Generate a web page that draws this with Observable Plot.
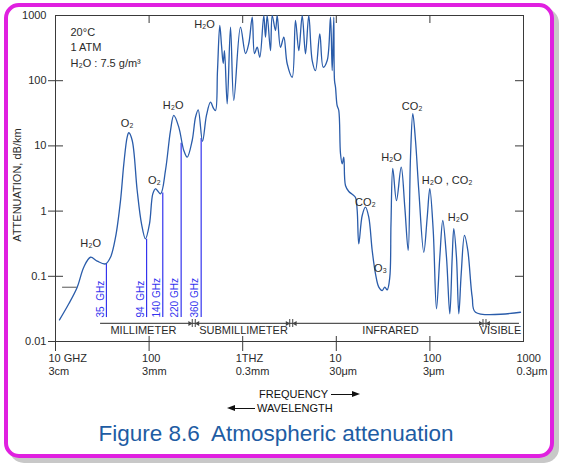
<!DOCTYPE html>
<html><head><meta charset="utf-8">
<script src="https://cdn.jsdelivr.net/npm/d3@7"></script>
<script src="https://cdn.jsdelivr.net/npm/@observablehq/plot@0.6"></script>
<style>
body{margin:0;background:#fff;font-family:"Liberation Sans",Arial,sans-serif;}
#wrap{position:relative;width:563px;height:468px;overflow:hidden;background:#fff;}
#border{position:absolute;left:4px;top:3px;width:550px;height:455px;box-sizing:border-box;border:4px solid #e020e0;border-radius:15px;box-shadow:5px 5px 0 #c8c8c8;background:#fff;}
#chart{position:absolute;left:0;top:0;}
.lbl{position:absolute;font-size:11px;color:#111;white-space:nowrap;line-height:11px;}
.line{position:absolute;height:1px;background:#111;}
.tri-r{position:absolute;width:0;height:0;border-top:3px solid transparent;border-bottom:3px solid transparent;border-left:8px solid #111;}
.tri-l{position:absolute;width:0;height:0;border-top:3px solid transparent;border-bottom:3px solid transparent;border-right:8px solid #111;}
#ytitle{position:absolute;left:17px;top:185px;transform:translate(-50%,-50%) rotate(-90deg);font-size:11px;line-height:11px;color:#2a2a2a;white-space:nowrap;}
#caption{position:absolute;left:0;width:552px;top:423px;text-align:center;font-size:22.5px;line-height:22px;color:#1e5ca3;white-space:pre;}
</style></head>
<body>
<div id="wrap">
  <div id="border"></div>
  <div id="chart"></div>
  <div id="ytitle"></div>
  <div class="lbl" style="left:259px;top:389px;">FREQUENCY</div>
  <div class="line" style="left:331px;top:394px;width:22px;"></div>
  <div class="tri-r" style="left:352px;top:391px;"></div>
  <div class="tri-l" style="left:227px;top:405px;"></div>
  <div class="line" style="left:234px;top:408px;width:21px;"></div>
  <div class="lbl" style="left:257px;top:403px;">WAVELENGTH</div>
  <div id="caption">Figure 8.6  Atmospheric attenuation</div>
</div>
<script>
// Attenuation curve: frequency (GHz) and attenuation (dB/km)
const freqGHz = [11.03, 13.87, 17.06, 20.05, 23.66, 27.9, 34.2, 38.7, 43.8, 49.5, 53.7, 58.3, 60.7, 66.0, 74.6, 83.0, 91.5, 101, 109.5, 117, 132.4, 149.6, 169.3, 183.6, 207.5, 234.8, 255.3, 288.7, 313.2, 334.6, 372, 410, 453, 488, 512, 538, 569, 594, 619, 639, 683, 741, 803, 947, 1072, 1162, 1264, 1337, 1429, 1523, 1680, 1752, 1827, 1982, 2066, 2240, 2337, 2534, 2749, 2988, 3380, 3664, 3976, 4322, 4688, 5083, 5527, 5995, 6663, 7244, 7993, 8670, 9042, 9404, 9568, 9806, 10200, 10630, 11090, 11560, 12020, 12530, 13600, 14890, 16030, 16720, 17390, 18910, 20510, 22230, 24180, 26230, 28440, 30930, 32960, 34990, 37290, 38400, 40140, 43950, 49360, 53930, 58620, 62040, 65660, 70150, 76110, 86060, 93590, 99770, 108500, 117600, 127600, 137300, 150400, 163200, 173100, 180000, 192300, 203600, 216000, 234300, 254100, 283100, 307000, 929000];
const attenDbKm = [0.0215, 0.0379, 0.0681, 0.138, 0.196, 0.171, 0.155, 0.196, 0.398, 1.45, 5.31, 13.6, 15.9, 12.1, 2.07, 0.638, 0.376, 0.638, 1.84, 2.20, 1.84, 4.20, 17.2, 29.3, 19.4, 8.5, 6.71, 12.1, 27.5, 35.8, 11.7, 29.3, 46.8, 37.5, 34.9, 143, 703, 347, 184, 290, 44.2, 662, 49.7, 662, 261, 372, 942, 261, 326, 229, 1000, 465, 1000, 290, 1000, 589, 1000, 326, 465, 182, 113, 838, 290, 1000, 259, 1000, 204, 143, 524, 161, 204, 942, 143, 942, 101, 79.5, 41.7, 34.9, 7.57, 5.31, 6.71, 2.47, 2.00, 1.80, 1.62, 1.02, 0.315, 0.857, 1.15, 0.806, 0.249, 0.109, 0.0681, 0.0605, 0.0681, 0.0621, 0.0969, 0.638, 4.50, 1.45, 4.71, 1.15, 0.249, 6.71, 31.1, 12.1, 2.07, 0.234, 0.806, 2.20, 0.504, 0.0317, 0.196, 0.718, 0.196, 0.0266, 0.196, 0.536, 0.196, 0.0266, 0.109, 0.423, 0.249, 0.0478, 0.0281, 0.0281];

// Window frequencies
const windowFreqs = [35, 94, 140, 220, 360];
const windowLabels = ["35  GHz", "94  GHz", "140 GHz", "220 GHz", "360 GHz"];
const windowTops = [0.155, 0.37, 1.9, 11, 13];
const windowBottom = 0.0233;

// Axis ticks
const xTickValues = [10, 100, 1000, 10000, 100000, 1000000];
const xTickLabels = ["10 GHZ\n3cm", "100\n3mm", "1THZ\n0.3mm", "10\n30μm", "100\n3μm", "1000\n0.3μm"];
const yTickValues = [0.01, 0.1, 1, 10, 100, 1000];
const yTickLabels = ["0.01", "0.1", "1", "10", "100", "1000"];

// Spectral bands
const bandNames = ["MILLIMETER", "SUBMILLIMETER", "INFRARED", "VISIBLE"];
const bandCenters = [87, 1020, 37900, 567000];
const bandEdges = [300, 3300, 383000];
const bandLineRange = [30.3, 906000];
const bandLineLevel = 0.0189;
const bandLabelLevel = 0.0147;

// Absorption line labels
const molLabels = ["H₂O", "O₂", "O₂", "H₂O", "H₂O", "CO₂", "O₃", "H₂O", "CO₂", "H₂O , CO₂", "H₂O"];
const molFreqs = [23.7, 58.3, 114, 181, 391, 20500, 29600, 38900, 64700, 153000, 200000];
const molAtten = [0.318, 22.3, 2.95, 41.7, 728, 1.37, 0.130, 6.71, 40.2, 2.95, 0.789];

const conditionsText = "20°C\n1 ATM\nH₂O : 7.5 g/m³";
const yTitle = "ATTENUATION, dB/km";
const stubLevel = 0.068;
const stubRange = [11.9, 17.1];

document.getElementById("ytitle").textContent = yTitle;

const curve = freqGHz.map((f, i) => ({f, a: attenDbKm[i]}));
const windows = windowFreqs.map((f, i) => ({f, top: windowTops[i], bottom: windowBottom, label: windowLabels[i]}));
const xTicks = xTickValues.map((v, i) => ({v, label: xTickLabels[i]}));
const yTicks = yTickValues.map((v, i) => ({v, label: yTickLabels[i]}));
const bands = bandNames.map((n, i) => ({n, x: bandCenters[i], y: bandLabelLevel}));
const mols = molLabels.map((t, i) => ({t, x: molFreqs[i], y: molAtten[i]}));
const edges = bandEdges.map(x => ({x, y: bandLineLevel}));

const ink = "#2a2a2a";
const blue = "#3434ee";
const plot = Plot.plot({
  width: 563, height: 468,
  marginLeft: 55, marginRight: 40, marginTop: 15, marginBottom: 127,
  x: {type: "log", domain: [10, 1e6], axis: null},
  y: {type: "log", domain: [0.01, 1000], axis: null},
  style: {fontFamily: "'Liberation Sans', Arial, sans-serif", fontSize: "11px", background: "transparent", overflow: "visible", color: ink},
  marks: [
    Plot.frame({stroke: "#3a3a3a"}),
    Plot.tickX(xTickValues.slice(0, 5), {x: d => d, insetTop: 321, insetBottom: -10, stroke: "#3a3a3a"}),
    Plot.tickX(xTickValues.slice(1, 5), {x: d => d, insetBottom: 318, stroke: "#3a3a3a"}),
    Plot.tickY(yTickValues.slice(0, 5), {y: d => d, insetLeft: -7, insetRight: 460, stroke: "#3a3a3a"}),
    Plot.tickY(yTickValues.slice(1, 5), {y: d => d, insetLeft: 460, stroke: "#3a3a3a"}),
    Plot.text(xTicks, {x: "v", text: "label", frameAnchor: "bottom", lineAnchor: "top", textAnchor: "start", dx: -7, dy: 12, lineHeight: 1.12, fill: ink}),
    Plot.text(yTicks, {y: "v", text: "label", frameAnchor: "left", textAnchor: "end", dx: -9, fill: ink}),
    Plot.ruleY([stubLevel], {x1: stubRange[0], x2: stubRange[1], stroke: "#555"}),
    Plot.ruleX(windows, {x: "f", y1: "bottom", y2: "top", stroke: blue, strokeWidth: 1.2}),
    Plot.text(windows, {x: "f", y: "bottom", text: "label", rotate: -90, textAnchor: "start", dx: -6, fill: blue, fontSize: 10}),
    Plot.line(curve, {x: "f", y: "a", stroke: "#2a5caa", strokeWidth: 1.3, curve: "catmull-rom", clip: true}),
    Plot.ruleY([bandLineLevel], {x1: bandLineRange[0], x2: bandLineRange[1], stroke: "#555", strokeWidth: 1.3}),
    Plot.tickX(bandEdges, {x: d => d, insetTop: 304, insetBottom: 14, dx: -1.5, stroke: "#444"}),
    Plot.tickX(bandEdges, {x: d => d, insetTop: 304, insetBottom: 14, dx: 1.5, stroke: "#444"}),
    Plot.dot(edges, {x: "x", y: "y", symbol: "triangle", rotate: 90, r: 1.8, fill: "#444", dx: -4}),
    Plot.dot(edges, {x: "x", y: "y", symbol: "triangle", rotate: -90, r: 1.8, fill: "#444", dx: 4}),
    Plot.text(bands, {x: "x", y: "y", text: "n", fill: ink}),
    Plot.text(mols, {x: "x", y: "y", text: "t", fill: ink}),
    Plot.text([conditionsText], {frameAnchor: "top-left", dx: 15, dy: 9, lineAnchor: "top", textAnchor: "start", lineHeight: 1.43, fill: ink})
  ]
});
document.getElementById("chart").appendChild(plot);
</script>
</body></html>
